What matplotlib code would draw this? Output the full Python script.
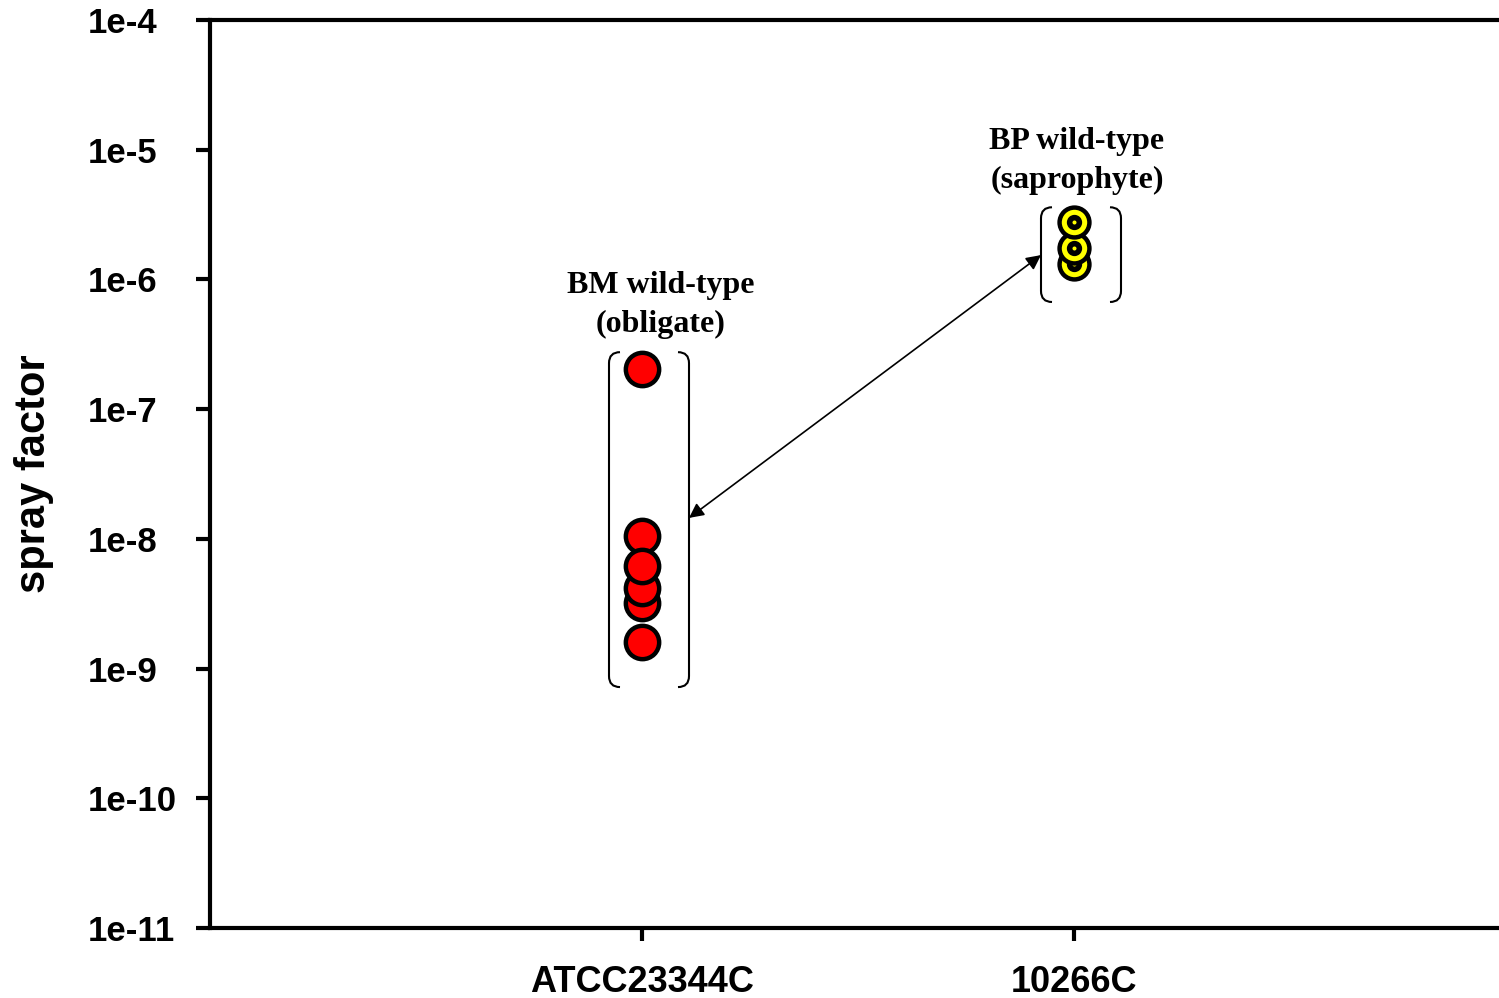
import numpy as np
import matplotlib
matplotlib.use("Agg")
import matplotlib.pyplot as plt
from matplotlib.path import Path
from matplotlib.patches import PathPatch
from matplotlib.ticker import FixedLocator, FuncFormatter, NullLocator

# ---- data ----
categories = ["ATCC23344C", "10266C"]
bm_values = [1.6e-9, 3.2e-9, 4.2e-9, 1.05e-8, 6.2e-9, 2.04e-7]
bp_values = [1.31e-6, 1.75e-6, 2.77e-6]
group_labels = ["BM wild-type\n(obligate)", "BP wild-type\n(saprophyte)"]
bm_bracket = [7.2e-10, 2.75e-7]
bp_bracket = [6.7e-7, 3.6e-6]
arrow_ends = [1.45e-8, 1.54e-6]
label_pos = [6.35e-7, 8.2e-6]
ytick_vals = [1e-11, 1e-10, 1e-9, 1e-8, 1e-7, 1e-6, 1e-5, 1e-4]

W, H, DPI = 1499, 998, 100
fig = plt.figure(figsize=(W / DPI, H / DPI), dpi=DPI)
ax = fig.add_axes([210 / W, 70 / H, 1296 / W, 908 / H])

ax.set_yscale("log")
ax.set_ylim(1e-11, 1e-4)
ax.set_xlim(0, 3)

xs = np.arange(1, len(categories) + 1)

# BM points (red), drawn one by one so overlap order is controlled
for v in bm_values:
    ax.plot([xs[0]], [v], "o", ms=24, mfc="#ff0000",
            mec="black", mew=3.2, ls="none", zorder=5)

# BP points (yellow bullseye), drawn one by one bottom -> top
for v in bp_values:
    ax.plot([xs[1]], [v], "o", ms=21.5, mfc="#ffff00", mec="black", mew=3.2,
            zorder=5)
    ax.plot([xs[1]], [v], "o", ms=7, mfc="#ffff00", mec="black", mew=4,
            zorder=5)

# Spines / ticks
for s in ["left", "bottom", "top"]:
    ax.spines[s].set_linewidth(3)
ax.spines["right"].set_visible(False)
ax.yaxis.set_major_locator(FixedLocator(ytick_vals))
ax.yaxis.set_minor_locator(NullLocator())
ax.yaxis.set_major_formatter(FuncFormatter(lambda v, p: "1e%d" % int(round(np.log10(v)))))
ax.set_xticks(xs)
ax.set_xticklabels(categories)
ax.tick_params(axis="y", which="major", direction="out", length=10, width=3,
               pad=78, labelsize=25)
ax.tick_params(axis="x", which="major", direction="out", length=9, width=3,
               pad=18, labelsize=26)
for lab in ax.get_xticklabels() + ax.get_yticklabels():
    lab.set_fontfamily("Liberation Sans")
    lab.set_fontweight("bold")
for lab in ax.get_yticklabels():
    lab.set_horizontalalignment("left")

ax.set_ylabel("spray factor", fontsize=30, fontweight="bold",
              family="Liberation Sans")
ax.yaxis.set_label_coords(-0.120, 0.5)

# brackets (drawn in display coords from data positions)
fig.canvas.draw()
px_per_unit = ax.transData.transform((1, 1))[0] - ax.transData.transform((0, 1))[0]
left_off, right_off = 33 / px_per_unit, 47 / px_per_unit


def bracket(xc, ylo, yhi):
    hook, r = 11, 11
    for side in (-1, 1):
        xd = xc - left_off if side < 0 else xc + right_off
        (x0, y0) = ax.transData.transform((xd, yhi))
        (_, y1) = ax.transData.transform((xd, ylo))
        d = -side  # hook direction toward inside
        verts = [(x0 + d * hook, y0), (x0, y0), (x0, y0 - r),
                 (x0, y1 + r), (x0, y1), (x0 + d * hook, y1)]
        codes = [Path.MOVETO, Path.CURVE3, Path.CURVE3,
                 Path.LINETO, Path.CURVE3, Path.CURVE3]
        patch = PathPatch(Path(verts, codes), fill=False, lw=1.5,
                          ec="black", transform=None, clip_on=False)
        fig.add_artist(patch)


bracket(xs[0], *bm_bracket)
bracket(xs[1], *bp_bracket)

# double arrow between groups
ax.annotate("", xy=(xs[0] + right_off, arrow_ends[0]),
            xytext=(xs[1] - left_off, arrow_ends[1]),
            arrowprops=dict(arrowstyle="<|-|>", lw=1.2, color="black",
                            mutation_scale=22, shrinkA=0, shrinkB=0))

# group labels
ax.text(xs[0] + 0.044, label_pos[0], group_labels[0], ha="center", va="center",
        fontsize=23, fontweight="bold", family="Liberation Serif",
        linespacing=1.45)
ax.text(xs[1] + 0.007, label_pos[1], group_labels[1], ha="center", va="center",
        fontsize=23, fontweight="bold", family="Liberation Serif",
        linespacing=1.45)

fig.savefig("out.png", dpi=DPI)
